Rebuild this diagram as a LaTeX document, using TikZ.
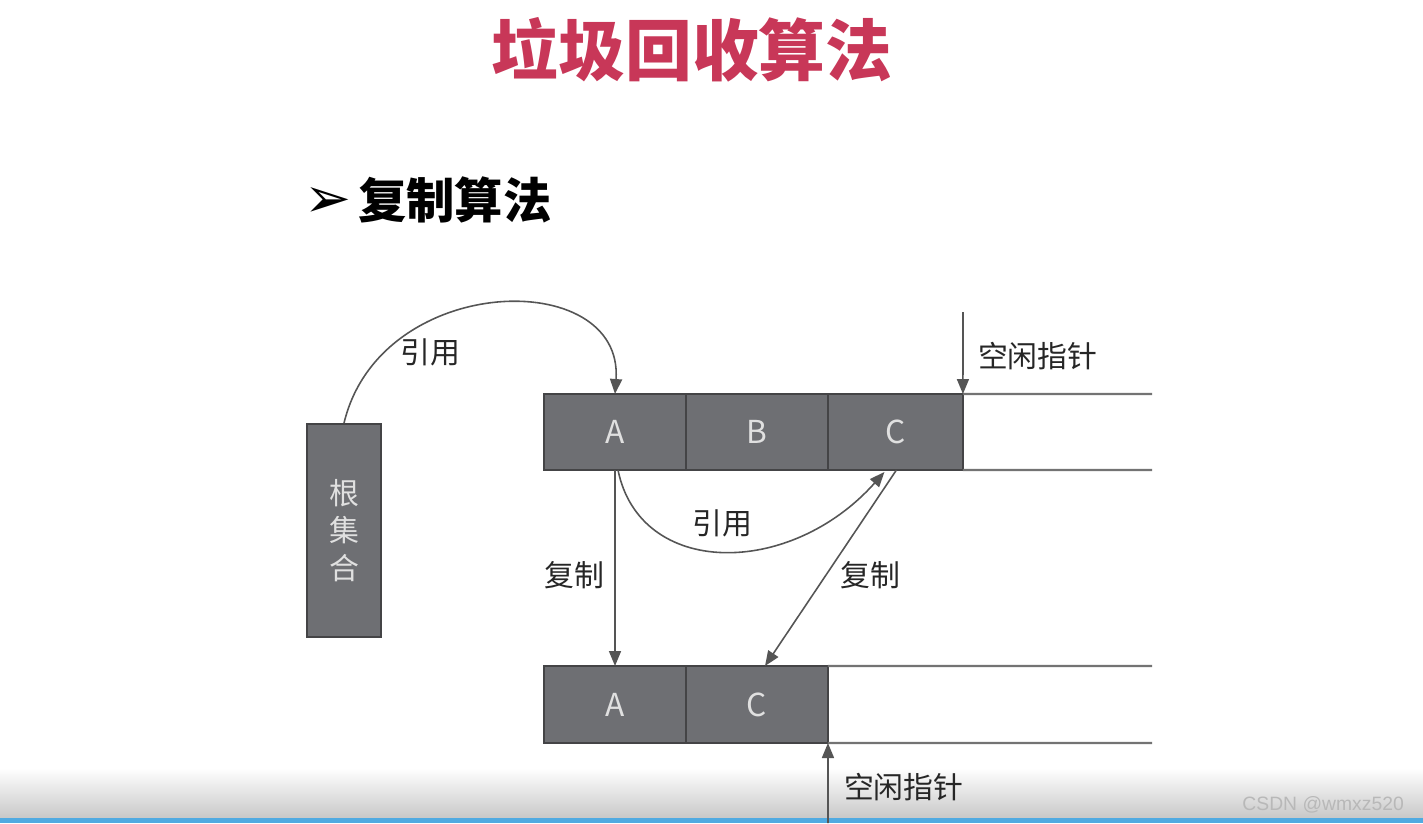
\documentclass[tikz,border=0pt]{standalone}
\usepackage{fontspec}
\setmainfont{Noto Sans CJK SC}
\newfontfamily\symfont{DejaVu Sans}
\newfontfamily\wmfont{Liberation Sans}
\usepackage{xcolor}
\usetikzlibrary{arrows.meta,positioning,calc}

\definecolor{titlered}{RGB}{200,55,88}
\definecolor{cellgray}{RGB}{110,111,115}
\definecolor{celledge}{RGB}{68,68,70}
\definecolor{linegray}{RGB}{85,85,85}
\definecolor{bandgray}{RGB}{200,200,200}
\definecolor{bandblue}{RGB}{80,170,225}

\begin{document}
\begin{tikzpicture}[x=0.02cm, y=-0.02cm,
  cell/.style={draw=celledge, line width=1pt, fill=cellgray, text=black!12,
               minimum width=2.84cm, minimum height=1.52cm, inner sep=0pt,
               outer sep=0pt, font=\fontsize{18}{20}\selectfont},
  rootbox/.style={draw=celledge, line width=1pt, fill=cellgray, text=black!12,
                  minimum width=1.48cm, minimum height=4.26cm, align=center,
                  font=\fontsize{17}{21.5}\selectfont},
  lbl/.style={font=\fontsize{17}{19}\selectfont, text=black!85, inner sep=1pt},
  rail/.style={draw=black!55, line width=1.2pt},
  arr/.style={-{Triangle[length=3mm,width=2.4mm]}, draw=linegray, line width=0.9pt}
]
\useasboundingbox (0,0) rectangle (1423,823);
\fill[white] (0,0) rectangle (1423,823);
% screen-capture band at the foot
\shade[top color=white, bottom color=bandgray] (0,768) rectangle (1423,818);
\fill[bandblue] (0,818) rectangle (1423,823);

\node[font=\fontsize{38}{40}\selectfont\bfseries, text=titlered] (title) at (692,50) {垃圾回收算法};
\node[font=\fontsize{27.5}{30}\selectfont\bfseries, anchor=west] (sub) at (352,200) {复制算法};
\node[font=\symfont\fontsize{32}{34}\selectfont, anchor=east, inner sep=0pt] (bullet) at ($(sub.west)+(0,2)$) {➢};

% root set
\node[rootbox] (root) at (344,530.5) {根\\集\\合};

% from-space
\node[cell] (a1) at (615,432) {A};
\node[cell, right=0pt of a1] (b1) {B};
\node[cell, right=0pt of b1, minimum width=2.7cm] (c1) {C};
\coordinate (e1t) at (1152,394);
\coordinate (e1b) at (1152,470);
\draw[rail] (c1.north east) -- (e1t);
\draw[rail] (c1.south east) -- (e1b);

% to-space
\node[cell, minimum height=1.54cm] (a2) at (615,704.5) {A};
\node[cell, minimum height=1.54cm, right=0pt of a2] (c2) {C};
\coordinate (e2t) at (1152,666);
\coordinate (e2b) at (1152,743);
\draw[rail] (c2.north east) -- (e2t);
\draw[rail] (c2.south east) -- (e2b);

% references
\draw[arr] (root.north) .. controls (380,272) and (624,266) .. (a1.north);
\node[lbl] (ref1) at (430,352) {引用};
\draw[arr] ($(a1.south)+(3,0)$) .. controls (640,578) and (790,578) .. ($(c1.south)+(-11,2)$);
\node[lbl] (ref2) at (722,523) {引用};

% copies
\draw[arr] (a1.south) -- (a2.north);
\node[lbl] (cp1) at (574,575) {复制};
\draw[arr] ($(c1.south)+(1,0)$) -- ($(c2.north)+(8,0)$);
\node[lbl] (cp2) at (870,575) {复制};

% free pointers
\coordinate (fp1) at (963,312);
\draw[arr] (fp1) -- (c1.north east);
\node[lbl, anchor=west] (fp1lbl) at (976,356) {空闲指针};
\coordinate (fp2) at (828,823);
\draw[arr] (fp2) -- (c2.south east);
\node[lbl, anchor=west] (fp2lbl) at (842,787) {空闲指针};

\node[font=\wmfont\fontsize{11}{13}\selectfont, text=black!28, anchor=east] (wm) at (1410,805) {CSDN @wmxz520};
\end{tikzpicture}
\end{document}
